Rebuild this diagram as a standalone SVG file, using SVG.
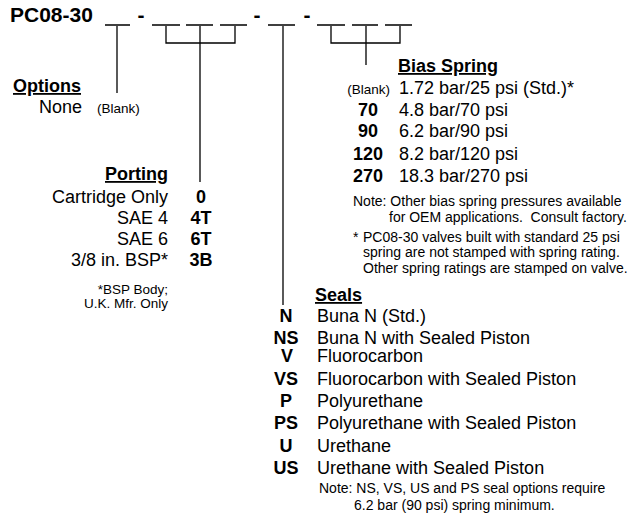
<svg xmlns="http://www.w3.org/2000/svg" width="634" height="515" viewBox="0 0 634 515">
<style>
text{font-family:"Liberation Sans",Arial,Helvetica,sans-serif;fill:#000}
.t{font-size:21px;font-weight:bold}
.h{font-size:18px;font-weight:bold;text-decoration:underline}
.b{font-size:18px}
.c{font-size:18px;font-weight:bold;text-anchor:middle}
.s{font-size:13.5px}
.n{font-size:14px}
.r{text-anchor:end}
.ln{stroke:#000;stroke-width:1.3;fill:none}
</style>
<rect width="634" height="515" fill="#fff"/>
<g id="title">
<text class="t" x="10" y="22">PC08-30</text>
<text class="t" x="141" y="22" text-anchor="middle">-</text>
<text class="t" x="257" y="22" text-anchor="middle">-</text>
<text class="t" x="307" y="22" text-anchor="middle">-</text>
</g>
<g id="connectors" class="ln">
<path d="M105 25H130M152 25H180M186 25H213M220 25H247M268 25H295M317 25H345M352 25H378M385 25H412"/>
<path d="M117 26V93"/>
<path d="M166 26V43H235V26M200 26V182"/>
<path d="M283 26V305"/>
<path d="M331 26V43H400V26M366 26V65"/>
</g>
<g id="options">
<text class="h" x="13" y="92">Options</text>
<text class="b" x="39" y="113">None</text>
<text class="s" x="97" y="113">(Blank)</text>
</g>
<g id="porting">
<text class="h r" x="168" y="180">Porting</text>
<text class="b r" x="168" y="203">Cartridge Only</text>
<text class="b r" x="168" y="224">SAE 4</text>
<text class="b r" x="168" y="245">SAE 6</text>
<text class="b r" x="168" y="266">3/8 in. BSP*</text>
<text class="c" x="201" y="203">0</text>
<text class="c" x="201" y="224">4T</text>
<text class="c" x="201" y="245">6T</text>
<text class="c" x="201" y="266">3B</text>
<text class="s r" x="168" y="294">*BSP Body;</text>
<text class="s r" x="168" y="308">U.K. Mfr. Only</text>
</g>
<g id="bias-spring">
<text class="h" x="398" y="72">Bias Spring</text>
<text class="s r" x="390" y="94">(Blank)</text>
<text class="b" x="399" y="94">1.72 bar/25 psi (Std.)*</text>
<text class="c" x="368" y="116">70</text>
<text class="b" x="399" y="116">4.8 bar/70 psi</text>
<text class="c" x="368" y="137">90</text>
<text class="b" x="399" y="137">6.2 bar/90 psi</text>
<text class="c" x="368" y="160">120</text>
<text class="b" x="399" y="160">8.2 bar/120 psi</text>
<text class="c" x="368" y="182">270</text>
<text class="b" x="399" y="182">18.3 bar/270 psi</text>
<text class="n" x="353" y="206">Note: Other bias spring pressures available</text>
<text class="n" x="389" y="222" xml:space="preserve">for OEM applications.  Consult factory.</text>
<text class="n" x="353" y="242">*</text>
<text class="n" x="363" y="242">PC08-30 valves built with standard 25 psi</text>
<text class="n" x="363" y="257">spring are not stamped with spring rating.</text>
<text class="n" x="363" y="273">Other spring ratings are stamped on valve.</text>
</g>
<g id="seals">
<text class="h" x="315" y="301">Seals</text>
<text class="c" x="286" y="322">N</text>
<text class="b" x="317" y="322">Buna N (Std.)</text>
<text class="c" x="286" y="344">NS</text>
<text class="b" x="317" y="344">Buna N with Sealed Piston</text>
<text class="c" x="287" y="362">V</text>
<text class="b" x="317" y="362">Fluorocarbon</text>
<text class="c" x="286" y="385">VS</text>
<text class="b" x="317" y="385">Fluorocarbon with Sealed Piston</text>
<text class="c" x="286" y="407">P</text>
<text class="b" x="317" y="407">Polyurethane</text>
<text class="c" x="286" y="429">PS</text>
<text class="b" x="317" y="429">Polyurethane with Sealed Piston</text>
<text class="c" x="286" y="452">U</text>
<text class="b" x="317" y="452">Urethane</text>
<text class="c" x="286" y="474">US</text>
<text class="b" x="317" y="474">Urethane with Sealed Piston</text>
<text class="n" x="319" y="493">Note: NS, VS, US and PS seal options require</text>
<text class="n" x="354" y="510">6.2 bar (90 psi) spring minimum.</text>
</g>
</svg>
